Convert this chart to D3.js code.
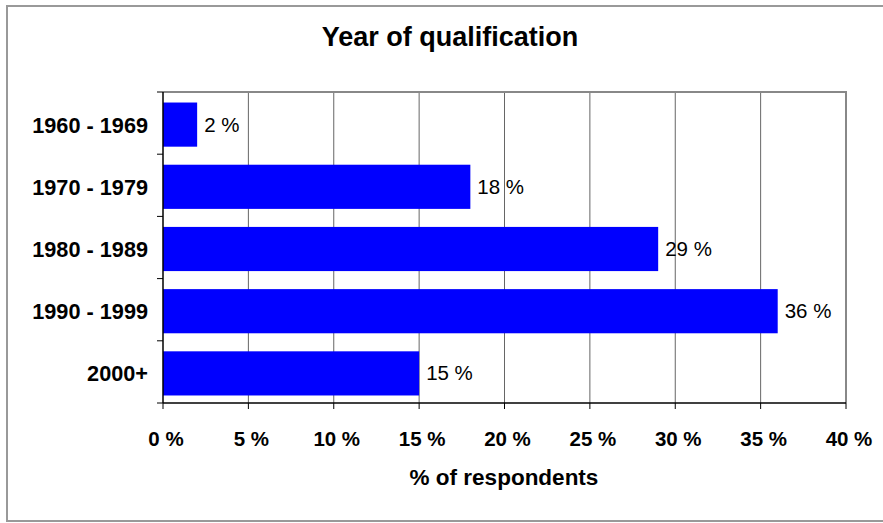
<meta charset="utf-8">
<style>
body { margin: 0; background: #fff; }
text { font-family: "Liberation Sans", Arial, sans-serif; }
.ytick { font-size: 21.7px; font-weight: bold; }
.xtick { font-size: 20.5px; font-weight: bold; }
.lbl { font-size: 20.5px; }
</style>
<body>
<script src="https://d3js.org/d3.v7.min.js"></script>
<script>
var categories = ["1960 - 1969", "1970 - 1979", "1980 - 1989", "1990 - 1999", "2000+"];
var values = [2, 18, 29, 36, 15];
var xTicks = [0, 5, 10, 15, 20, 25, 30, 35, 40];

var W = 883, H = 523;
// plot area
var pLeft = 163, pRight = 846, pTop = 92, pBottom = 403;

var svg = d3.select("body").append("svg")
    .attr("width", W)
    .attr("height", H);

// outer frame
svg.append("rect")
    .attr("x", 7).attr("y", 6)
    .attr("width", 890).attr("height", 515)
    .attr("fill", "none")
    .attr("stroke", "#999")
    .attr("stroke-width", 2);

var x = d3.scaleLinear().domain([0, 40]).range([pLeft, pRight]);
var y = d3.scaleBand().domain(categories).range([pTop, pBottom]).paddingInner(0.29).paddingOuter(0.145);
// bars sit a touch lower than the band centre in the original
var barShift = 1.5;

// gridlines
svg.selectAll(".grid")
    .data(xTicks.slice(1, -1))
  .enter().append("line")
    .attr("x1", function(d) { return x(d); })
    .attr("x2", function(d) { return x(d); })
    .attr("y1", pTop).attr("y2", pBottom)
    .attr("stroke", "#666")
    .attr("stroke-width", 1);

// plot border top / right
svg.append("path")
    .attr("d", "M" + pLeft + "," + pTop + "H" + pRight + "V" + pBottom)
    .attr("fill", "none")
    .attr("stroke", "#888")
    .attr("stroke-width", 2);

// bars
svg.selectAll(".bar")
    .data(values)
  .enter().append("rect")
    .attr("x", x(0))
    .attr("y", function(d, i) { return y(categories[i]) + barShift; })
    .attr("width", function(d) { return x(d) - x(0); })
    .attr("height", y.bandwidth())
    .attr("fill", "#0000ff");

// data labels
svg.selectAll(".lbl")
    .data(values)
  .enter().append("text")
    .attr("class", "lbl")
    .attr("x", function(d) { return x(d) + 7; })
    .attr("y", function(d, i) { return y(categories[i]) + barShift + y.bandwidth() / 2 + 7; })
    .text(function(d) { return d + " %"; });

// y axis
var step = y.step();
var yAxis = svg.append("g");
yAxis.append("line")
    .attr("x1", pLeft).attr("x2", pLeft)
    .attr("y1", pTop).attr("y2", pBottom)
    .attr("stroke", "#000").attr("stroke-width", 1.5);
yAxis.selectAll(".yt")
    .data(d3.range(categories.length + 1))
  .enter().append("line")
    .attr("x1", pLeft - 6).attr("x2", pLeft)
    .attr("y1", function(i) { return pTop + i * step; })
    .attr("y2", function(i) { return pTop + i * step; })
    .attr("stroke", "#000");
yAxis.selectAll(".ytick")
    .data(categories)
  .enter().append("text")
    .attr("class", "ytick")
    .attr("text-anchor", "end")
    .attr("x", 148)
    .attr("y", function(d) { return y(d) + barShift + y.bandwidth() / 2 + 8; })
    .text(function(d) { return d; });

// x axis
var xAxis = svg.append("g");
xAxis.append("line")
    .attr("x1", pLeft).attr("x2", pRight)
    .attr("y1", pBottom).attr("y2", pBottom)
    .attr("stroke", "#000").attr("stroke-width", 1.5);
xAxis.selectAll(".xt")
    .data(xTicks)
  .enter().append("line")
    .attr("x1", function(d) { return x(d); })
    .attr("x2", function(d) { return x(d); })
    .attr("y1", pBottom).attr("y2", pBottom + 6)
    .attr("stroke", "#000");
xAxis.selectAll(".xtick")
    .data(xTicks)
  .enter().append("text")
    .attr("class", "xtick")
    .attr("text-anchor", "middle")
    .attr("x", function(d) { return x(d) + 3; })
    .attr("y", 446)
    .text(function(d) { return d + " %"; });

// titles
svg.append("text")
    .attr("x", 450).attr("y", 46)
    .attr("text-anchor", "middle")
    .style("font-size", "27px").style("font-weight", "bold")
    .text("Year of qualification");

svg.append("text")
    .attr("x", 504).attr("y", 485)
    .attr("text-anchor", "middle")
    .style("font-size", "22.5px").style("font-weight", "bold")
    .text("% of respondents");
</script>
</body>
